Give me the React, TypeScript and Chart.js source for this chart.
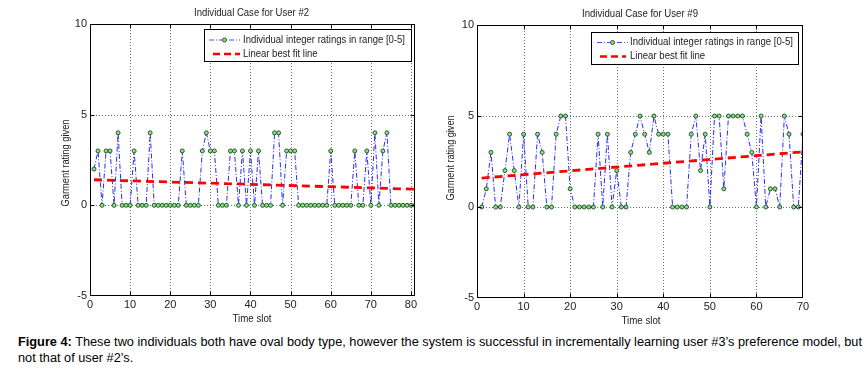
import React, { useEffect, useLayoutEffect, useRef } from "react";
import { Chart, registerables } from "chart.js";

Chart.register(...registerables);

// ---------- data ----------
const user2Ratings = [
  2, 3, 0, 3, 3, 0, 4, 0, 0, 0,
  3, 0, 0, 0, 4, 0, 0, 0, 0, 0,
  0, 0, 3, 0, 0, 0, 0, 3, 4, 3,
  3, 0, 0, 0, 3, 3, 0, 3, 0, 3,
  0, 3, 0, 0, 0, 4, 4, 0, 3, 3,
  3, 0, 0, 0, 0, 0, 0, 0, 0, 3,
  0, 0, 0, 0, 0, 3, 0, 0, 3, 0,
  4, 0, 3, 4, 0, 0, 0, 0, 0, 0,
  0,
];
const user9Ratings = [
  0, 1, 3, 0, 0, 2, 4, 2, 0, 4,
  0, 0, 4, 3, 0, 0, 4, 5, 5, 1,
  0, 0, 0, 0, 0, 4, 0, 4, 0, 2,
  0, 0, 3, 4, 5, 4, 3, 5, 4, 4,
  4, 0, 0, 0, 0, 4, 5, 2, 4, 0,
  5, 5, 1, 5, 5, 5, 5, 4, 3, 0,
  5, 0, 1, 1, 0, 5, 4, 0, 0, 4,
];
const user2FitX = [1, 81];
const user2FitY = [1.41, 0.89];
const user9FitX = [1, 70];
const user9FitY = [1.59, 3.03];
const user2XMax = 81;
const user9XMax = 70;
const yMin = -5;
const yMax = 10;
const yStep = 5;
const xStep = 10;
const titles = ["Individual Case for User #2", "Individual Case for User #9"];
const legendLabels = ["Individual integer ratings in range [0-5]", "Linear best fit line"];
const xAxisTitle = "Time slot";
const yAxisTitle = "Garment rating given";

const FONT = "'Liberation Sans Narrow', 'Liberation Sans', Arial, sans-serif";
const TEXT = "#222";

type LegendCfg = {
  x: number; y: number; w: number; h: number;
  s1: [number, number]; s2: [number, number];
  textX: number; text1W: number; row1: number; row2: number;
};
type PanelCfg = {
  title: string; ratings: number[]; fitX: number[]; fitY: number[]; xMax: number;
  width: number; height: number; padLeft: number; padRight: number; padTop: number; xScaleH: number;
  titleX: number; titleY: number; titleW: number;
  yTitleX: number; yTitleY: number; yTitleW: number;
  xTitleX: number; xTitleY: number; xTitleW: number;
  legend: LegendCfg;
};

function fitText(ctx: CanvasRenderingContext2D, text: string, x: number, y: number, w: number, align: "left" | "center", rotate = false) {
  const mw = ctx.measureText(text).width;
  const s = w / mw;
  ctx.save();
  ctx.translate(x, y);
  if (rotate) ctx.rotate(-Math.PI / 2);
  ctx.scale(s, 1);
  ctx.textAlign = align;
  ctx.textBaseline = "middle";
  ctx.fillText(text, 0, 0);
  ctx.restore();
}

function makePlugin(cfg: PanelCfg) {
  return {
    id: "panelDecor",
    beforeDatasetsDraw(chart: any) {
      const { ctx, chartArea: a, scales } = chart;
      ctx.save();
      ctx.strokeStyle = "#707070";
      ctx.lineWidth = 1;
      ctx.setLineDash([1, 2]);
      scales.x.ticks.forEach((t: any) => {
        if (t.value <= scales.x.min || t.value >= scales.x.max) return;
        const px = Math.round(scales.x.getPixelForValue(t.value)) + 0.5;
        ctx.beginPath(); ctx.moveTo(px, a.top); ctx.lineTo(px, a.bottom); ctx.stroke();
      });
      scales.y.ticks.forEach((t: any) => {
        if (t.value <= scales.y.min || t.value >= scales.y.max) return;
        const py = Math.round(scales.y.getPixelForValue(t.value)) + 0.5;
        ctx.beginPath(); ctx.moveTo(a.left, py); ctx.lineTo(a.right, py); ctx.stroke();
      });
      ctx.restore();
    },
    afterDatasetsDraw(chart: any) {
      const { ctx, chartArea: a, scales } = chart;
      ctx.save();
      ctx.setLineDash([]);
      ctx.strokeStyle = "#000";
      ctx.lineWidth = 1;
      const L = Math.round(a.left) + 0.5, R = Math.round(a.right) - 0.5;
      const T = Math.round(a.top) + 0.5, B = Math.round(a.bottom) - 0.5;
      ctx.strokeRect(L, T, R - L, B - T);
      const tl = 4;
      scales.x.ticks.forEach((t: any) => {
        if (t.value <= scales.x.min || t.value >= scales.x.max) return;
        const px = Math.round(scales.x.getPixelForValue(t.value)) + 0.5;
        ctx.beginPath();
        ctx.moveTo(px, B); ctx.lineTo(px, B - tl);
        ctx.moveTo(px, T); ctx.lineTo(px, T + tl);
        ctx.stroke();
      });
      scales.y.ticks.forEach((t: any) => {
        if (t.value <= scales.y.min || t.value >= scales.y.max) return;
        const py = Math.round(scales.y.getPixelForValue(t.value)) + 0.5;
        ctx.beginPath();
        ctx.moveTo(L, py); ctx.lineTo(L + tl, py);
        ctx.moveTo(R, py); ctx.lineTo(R - tl, py);
        ctx.stroke();
      });

      // legend
      const lg = cfg.legend;
      ctx.fillStyle = "#fff";
      ctx.fillRect(lg.x, lg.y, lg.w, lg.h);
      ctx.strokeStyle = "#000";
      ctx.strokeRect(lg.x + 0.5, lg.y + 0.5, lg.w, lg.h);
      // sample 1
      ctx.strokeStyle = "#4a4aff";
      ctx.lineWidth = 1;
      ctx.setLineDash([5, 2, 1, 2]);
      ctx.beginPath();
      ctx.moveTo(lg.s1[0], lg.row1 + 0.5); ctx.lineTo(lg.s1[1], lg.row1 + 0.5);
      ctx.stroke();
      ctx.setLineDash([]);
      ctx.beginPath();
      ctx.arc((lg.s1[0] + lg.s1[1]) / 2, lg.row1 + 0.5, 2, 0, Math.PI * 2);
      ctx.fillStyle = "#86e386";
      ctx.fill();
      ctx.strokeStyle = "#1e4a1e";
      ctx.lineWidth = 0.9;
      ctx.stroke();
      // sample 2
      ctx.strokeStyle = "#ff0000";
      ctx.lineWidth = 2.4;
      ctx.setLineDash([7, 4]);
      ctx.beginPath();
      ctx.moveTo(lg.s2[0], lg.row2 + 0.5); ctx.lineTo(lg.s2[1], lg.row2 + 0.5);
      ctx.stroke();
      ctx.setLineDash([]);

      ctx.fillStyle = TEXT;
      ctx.font = `11px ${FONT}`;
      const s = lg.text1W / ctx.measureText(legendLabels[0]).width;
      fitText(ctx, legendLabels[0], lg.textX, lg.row1, lg.text1W, "left");
      fitText(ctx, legendLabels[1], lg.textX, lg.row2, ctx.measureText(legendLabels[1]).width * s, "left");

      // titles
      ctx.font = `11px ${FONT}`;
      fitText(ctx, cfg.title, cfg.titleX, cfg.titleY, cfg.titleW, "center");
      fitText(ctx, xAxisTitle, cfg.xTitleX, cfg.xTitleY, cfg.xTitleW, "center");
      fitText(ctx, yAxisTitle, cfg.yTitleX, cfg.yTitleY, cfg.yTitleW, "center", true);
      ctx.restore();
    },
  };
}

function Panel({ cfg, left }: { cfg: PanelCfg; left: number }) {
  const ref = useRef<HTMLCanvasElement>(null);
  useEffect(() => {
    const chart = new Chart(ref.current as HTMLCanvasElement, {
      type: "line",
      data: {
        datasets: [
          {
            data: cfg.fitX.map((x, i) => ({ x, y: cfg.fitY[i] })),
            borderColor: "#ff0000",
            borderWidth: 2.8,
            borderDash: [8, 5],
            pointRadius: 0,
            fill: false,
            order: 0,
          },
          {
            data: cfg.ratings.map((v, i) => ({ x: i + 1, y: v })),
            borderColor: "#2a2aff",
            borderWidth: 1,
            borderDash: [5, 2, 1, 2],
            pointRadius: 2,
            pointBackgroundColor: "#86e386",
            pointBorderColor: "#1e4a1e",
            pointBorderWidth: 0.9,
            tension: 0,
            fill: false,
            order: 1,
          },
        ],
      } as any,
      options: {
        animation: false,
        responsive: false,
        maintainAspectRatio: false,
        events: [],
        layout: { padding: { top: cfg.padTop, left: cfg.padLeft, right: cfg.padRight, bottom: 0 } },
        plugins: { legend: { display: false }, tooltip: { enabled: false }, title: { display: false } },
        scales: {
          x: {
            type: "linear",
            min: 0,
            max: cfg.xMax,
            border: { display: false },
            grid: { display: false, drawTicks: false },
            ticks: {
              stepSize: xStep,
              includeBounds: false,
              autoSkip: false,
              maxRotation: 0,
              padding: 2,
              color: TEXT,
              font: { family: FONT, size: 11 },
            },
            afterFit: (s: any) => { s.height = cfg.xScaleH; },
          },
          y: {
            type: "linear",
            min: yMin,
            max: yMax,
            border: { display: false },
            grid: { display: false, drawTicks: false },
            ticks: {
              stepSize: yStep,
              padding: 3,
              color: TEXT,
              font: { family: FONT, size: 11 },
            },
            afterFit: (s: any) => { s.width = 35; },
          },
        },
      } as any,
      plugins: [makePlugin(cfg)],
    });
    return () => chart.destroy();
  }, []);
  return (
    <canvas
      ref={ref}
      width={cfg.width}
      height={cfg.height}
      style={{ position: "absolute", left, top: 0, width: cfg.width, height: cfg.height }}
    />
  );
}

const leftCfg: PanelCfg = {
  title: titles[0], ratings: user2Ratings, fitX: user2FitX, fitY: user2FitY, xMax: user2XMax,
  width: 430, height: 330, padLeft: 55, padRight: 15, padTop: 24, xScaleH: 34,
  titleX: 251.5, titleY: 13, titleW: 115,
  yTitleX: 65.5, yTitleY: 163, yTitleW: 87,
  xTitleX: 252, xTitleY: 319, xTitleW: 39,
  legend: { x: 204, y: 29, w: 207, h: 32, s1: [209, 240], s2: [213, 240], textX: 243, text1W: 162, row1: 39.5, row2: 53.5 },
};
const rightCfg: PanelCfg = {
  title: titles[1], ratings: user9Ratings, fitX: user9FitX, fitY: user9FitY, xMax: user9XMax,
  width: 434, height: 330, padLeft: 12, padRight: 61, padTop: 25, xScaleH: 32,
  titleX: 210, titleY: 14, titleW: 116,
  yTitleX: 21, yTitleY: 158, yTitleW: 85,
  xTitleX: 211, xTitleY: 321, xTitleW: 39,
  legend: { x: 161, y: 32, w: 207, h: 32, s1: [167, 198], s2: [170, 196], textX: 200, text1W: 163, row1: 42, row2: 56 },
};

export default function App() {
  const l1 = useRef<HTMLSpanElement>(null);
  const l2 = useRef<HTMLSpanElement>(null);
  useLayoutEffect(() => {
    if (!l1.current || !l2.current) return;
    const w = l1.current.getBoundingClientRect().width;
    const k = 844 / w;
    l1.current.style.transform = `scaleX(${k})`;
    l2.current.style.transform = `scaleX(${k})`;
  }, []);
  return (
    <div style={{ position: "fixed", left: 0, top: 0, width: 864, height: 372, background: "#fff", overflow: "hidden" }}>
      <Panel cfg={leftCfg} left={0} />
      <Panel cfg={rightCfg} left={430} />
      <div
        style={{
          position: "absolute", left: 18, top: 334, fontFamily: "'Liberation Sans Narrow', 'Liberation Sans', Arial, sans-serif",
          fontSize: 12, lineHeight: "16px", color: "#000", whiteSpace: "nowrap",
        }}
      >
        <span ref={l1} style={{ display: "inline-block", transformOrigin: "0 0" }}>
          <b>Figure 4:</b> These two individuals both have oval body type, however the system is successful in incrementally learning user #3’s preference model, but
        </span>
        <br />
        <span ref={l2} style={{ display: "inline-block", transformOrigin: "0 0" }}>not that of user #2’s.</span>
      </div>
    </div>
  );
}
